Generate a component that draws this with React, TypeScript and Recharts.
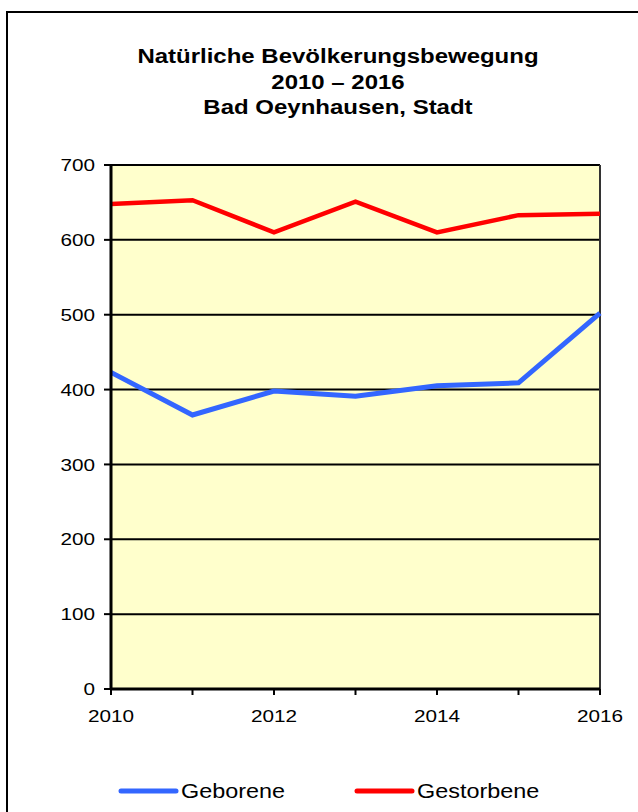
import React from 'react';
import { LineChart, Line, XAxis, YAxis, CartesianGrid, Legend, ReferenceLine } from 'recharts';

const years = [2010, 2011, 2012, 2013, 2014, 2015, 2016];
const labeledYears = [2010, 2012, 2014, 2016];
const geborene = [423, 366, 398, 391, 405, 409, 502];
const gestorbene = [648, 653, 610, 651, 610, 633, 635];
const yTicks = [0, 100, 200, 300, 400, 500, 600, 700];
const titleLines = ['Natürliche Bevölkerungsbewegung', '2010 – 2016', 'Bad Oeynhausen, Stadt'];
const seriesNames = ['Geborene', 'Gestorbene'];
const seriesColors = ['#3366FF', '#FF0000'];

const data = years.map((y, i) => ({ year: y, geborene: geborene[i], gestorbene: gestorbene[i] }));

const FONT = '"Liberation Sans", Arial, sans-serif';
const SX = 1.22;

const YTick = (props: any) => {
  const { x, y, payload } = props;
  return (
    <text transform={`translate(${x},${y}) scale(${SX},1)`} textAnchor="end" dy="0.36em" fontSize={17} fontFamily={FONT} fill="#000">
      {payload.value}
    </text>
  );
};

const XTick = (props: any) => {
  const { x, y, payload } = props;
  if (!labeledYears.includes(payload.value)) return <g />;
  return (
    <text transform={`translate(${x},${y}) scale(${SX},1)`} textAnchor="middle" dy="0.71em" fontSize={17} fontFamily={FONT} fill="#000">
      {payload.value}
    </text>
  );
};

const LegendContent = () => {
  const starts = [121, 357];
  return (
    <svg width={638} height={30} style={{ display: 'block' }}>
      {seriesNames.map((n, i) => (
        <g key={n}>
          <line x1={starts[i]} x2={starts[i] + 55} y1={12} y2={12} stroke={seriesColors[i]} strokeWidth={5} strokeLinecap="round" />
          <text transform={`translate(${starts[i] + 60},${19}) scale(1.17,1)`} fontSize={20} fontFamily={FONT} fill="#000">
            {n}
          </text>
        </g>
      ))}
    </svg>
  );
};

export default function App() {
  return (
    <div style={{ position: 'absolute', left: 0, top: 0, width: 638, height: 812, overflow: 'hidden', background: '#fff' }}>
      <div style={{ position: 'absolute', left: 6, top: 11, width: 800, height: 1000, border: '2px solid #000', boxSizing: 'border-box' }} />
      <div style={{ position: 'absolute', left: 38, top: 44, width: 600, textAlign: 'center', fontFamily: FONT, fontWeight: 'bold', fontSize: 19.5, lineHeight: '25.5px', transform: 'scaleX(1.23)', transformOrigin: '300px 0' }}>
        {titleLines.map((t) => (
          <div key={t}>{t}</div>
        ))}
      </div>
      <div style={{ position: 'absolute', left: 0, top: 0 }}>
        <LineChart width={638} height={812} data={data} margin={{ top: 165, right: 38, left: 51, bottom: 93 }}>
          <CartesianGrid horizontal={true} vertical={false} stroke="#000" strokeWidth={2} fill="#FFFFCC" fillOpacity={1} />
          <ReferenceLine x={2016} stroke="#333" strokeWidth={2} />
          <XAxis dataKey="year" type="category" height={30} interval={0} tick={<XTick />} tickSize={6} tickMargin={15} axisLine={{ stroke: '#000', strokeWidth: 3 }} tickLine={{ stroke: '#000', strokeWidth: 2 }} />
          <YAxis width={60} domain={[0, 700]} ticks={yTicks} interval={0} tick={<YTick />} tickSize={7} tickMargin={9} axisLine={{ stroke: '#000', strokeWidth: 3 }} tickLine={{ stroke: '#000', strokeWidth: 2 }} />
          <Line dataKey="geborene" name={seriesNames[0]} stroke={seriesColors[0]} strokeWidth={5} dot={false} isAnimationActive={false} />
          <Line dataKey="gestorbene" name={seriesNames[1]} stroke={seriesColors[1]} strokeWidth={4.5} dot={false} isAnimationActive={false} />
          <Legend layout="horizontal" verticalAlign="middle" align="center" content={<LegendContent />} wrapperStyle={{ top: 779, left: 0, width: 638, height: 30 }} />
        </LineChart>
      </div>
    </div>
  );
}
